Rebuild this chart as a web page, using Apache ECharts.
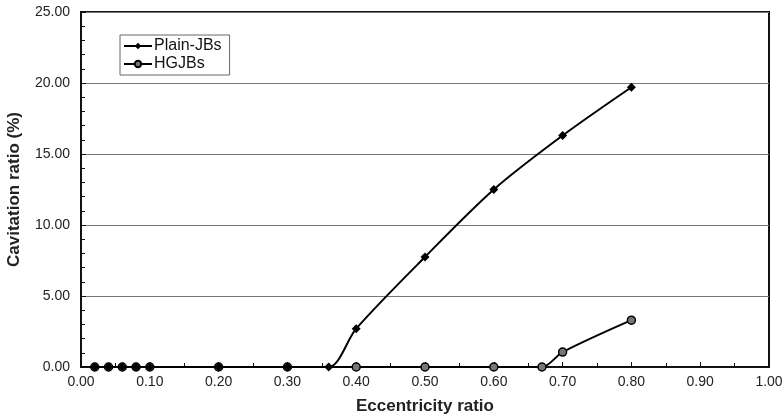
<!DOCTYPE html>
<html>
<head>
<meta charset="utf-8">
<script src="https://cdn.jsdelivr.net/npm/echarts@6/dist/echarts.min.js"></script>
<style>
  html, body { margin: 0; padding: 0; background: #fff; }
  #chart { width: 783px; height: 419px; }
</style>
</head>
<body>
<div id="chart"></div>
<script>
// eccentricity ratio vs cavitation ratio (%)
const plainX = [0.02, 0.04, 0.06, 0.08, 0.10, 0.20, 0.30, 0.36, 0.40, 0.50, 0.60, 0.70, 0.80];
const plainY = [0, 0, 0, 0, 0, 0, 0, 0, 2.7, 7.75, 12.5, 16.3, 19.7];
const hgX = [0.02, 0.04, 0.06, 0.08, 0.10, 0.20, 0.30, 0.40, 0.50, 0.60, 0.67, 0.70, 0.80];
const hgY = [0, 0, 0, 0, 0, 0, 0, 0, 0, 0, 0, 1.05, 3.3];

const font = 'Liberation Sans, Arial, sans-serif';

function pairs(xs, ys) {
    return xs.map((x, i) => [x, ys[i]]);
}

const myChart = echarts.init(document.getElementById('chart'));

const option = {
    animation: false,
    textStyle: { fontFamily: font },
    grid: {
        left: 81,
        right: 14,
        top: 12,
        bottom: 52,
        outerBoundsMode: 'none',
        containLabel: false,
        show: true,
        borderColor: '#111',
        borderWidth: 2
    },
    legend: {
        left: 120,
        top: 35,
        orient: 'vertical',
        itemGap: 2,
        itemWidth: 28,
        itemHeight: 8,
        padding: [3, 8, 3, 3],
        borderColor: '#666',
        borderWidth: 1,
        textStyle: { fontFamily: font, fontSize: 16, color: '#111', padding: [0, 0, 0, -3] },
        data: ['Plain-JBs', 'HGJBs']
    },
    xAxis: {
        type: 'value',
        min: 0,
        max: 1,
        interval: 0.1,
        name: 'Eccentricity ratio',
        nameLocation: 'middle',
        nameGap: 31,
        nameTextStyle: { fontFamily: font, fontSize: 17, fontWeight: 'bold', color: '#222' },
        axisLine: { lineStyle: { color: '#111', width: 2 } },
        axisTick: { inside: true, length: 5, lineStyle: { color: '#111' } },
        minorTick: { show: true, splitNumber: 2, length: 4, lineStyle: { color: '#111' } },
        axisLabel: {
            fontSize: 14,
            color: '#222',
            margin: 8,
            formatter: v => v.toFixed(2)
        },
        splitLine: { show: false }
    },
    yAxis: {
        type: 'value',
        min: 0,
        max: 25,
        interval: 5,
        name: 'Cavitation ratio (%)',
        nameLocation: 'middle',
        nameGap: 58,
        nameTextStyle: { fontFamily: font, fontSize: 17, fontWeight: 'bold', color: '#222' },
        axisLine: { show: true, lineStyle: { color: '#111', width: 2 } },
        axisTick: { inside: true, length: 5, lineStyle: { color: '#111' } },
        minorTick: { show: true, splitNumber: 5, length: 4, lineStyle: { color: '#111' } },
        axisLabel: {
            fontSize: 14,
            color: '#222',
            margin: 11,
            formatter: v => v.toFixed(2)
        },
        splitLine: { show: true, lineStyle: { color: '#777', width: 1.2 } }
    },
    series: [
        {
            name: 'Plain-JBs',
            type: 'line',
            data: pairs(plainX, plainY),
            smooth: 0.3,
            symbol: 'diamond',
            symbolSize: 9,
            lineStyle: { color: '#000', width: 2 },
            itemStyle: { color: '#000' },
            z: 3
        },
        {
            name: 'HGJBs',
            type: 'line',
            data: pairs(hgX, hgY),
            smooth: 0.3,
            symbol: 'circle',
            symbolSize: 8,
            lineStyle: { color: '#000', width: 2 },
            itemStyle: { color: '#777', borderColor: '#000', borderWidth: 1.5 },
            z: 2
        }
    ]
};

myChart.setOption(option);
</script>
</body>
</html>
